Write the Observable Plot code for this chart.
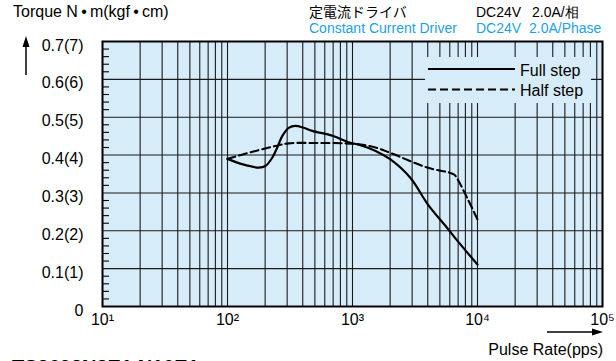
<!DOCTYPE html>
<html>
<head>
<meta charset="utf-8">
<script src="https://cdn.jsdelivr.net/npm/d3@7"></script>
<script src="https://cdn.jsdelivr.net/npm/@observablehq/plot@0.6"></script>
<style>
  html, body { margin: 0; padding: 0; background: #fff; }
  #chart { width: 616px; height: 361px; overflow: hidden; }
</style>
</head>
<body>
<div id="chart"></div>
<script>
// ---- data ----
const fullStepRate   = [100, 131, 178, 201, 228, 250, 274, 309, 350, 407, 476, 690, 930, 1160, 1530, 2000, 2900, 4000, 5700, 7300, 10000];
const fullStepTorque = [0.39, 0.376, 0.367, 0.371, 0.393, 0.42, 0.45, 0.472, 0.477, 0.472, 0.464, 0.451, 0.434, 0.426, 0.411, 0.389, 0.34, 0.27, 0.208, 0.164, 0.111];

const halfStepRate   = [100, 168, 242, 309, 500, 880, 1160, 1530, 2000, 3960, 6460, 6900, 8260, 10000];
const halfStepTorque = [0.39, 0.411, 0.424, 0.431, 0.432, 0.431, 0.428, 0.42, 0.406, 0.367, 0.349, 0.337, 0.287, 0.23];

const xTickValues = [10, 100, 1000, 10000, 100000];
const xTickLabels = ["10¹", "10²", "10³", "10⁴", "10⁵"];
const yTickValues = [0, 0.1, 0.2, 0.3, 0.4, 0.5, 0.6, 0.7];
const yTickLabels = ["0", "0.1(1)", "0.2(2)", "0.3(3)", "0.4(4)", "0.5(5)", "0.6(6)", "0.7(7)"];
const xGrid = [10,20,30,40,50,60,70,80,90,
               100,200,300,400,500,600,700,800,900,
               1000,2000,3000,4000,5000,6000,7000,8000,9000,
               10000,20000,30000,40000,50000,60000,70000,80000,90000,100000];
const yGrid = [0.1, 0.2, 0.3, 0.4, 0.5, 0.6];
const yMinor = [0.02,0.04,0.06,0.08,0.12,0.14,0.16,0.18,0.22,0.24,0.26,0.28,0.32,0.34,0.36,0.38,
                0.42,0.44,0.46,0.48,0.52,0.54,0.56,0.58,0.62,0.64,0.66,0.68];

const seriesNames = ["Full step", "Half step"];

const full = fullStepRate.map((r, i) => ({rate: r, torque: fullStepTorque[i]}));
const half = halfStepRate.map((r, i) => ({rate: r, torque: halfStepTorque[i]}));

const BG = "#d6ecf9";
const BLUE = "#1e9fe2";
const FONT = "'Liberation Sans', Arial, Helvetica, sans-serif";

const chart = Plot.plot({
  width: 616,
  height: 361,
  marginTop: 41,
  marginBottom: 55,
  marginLeft: 102,
  marginRight: 14,
  style: {fontFamily: FONT, fontSize: "16px", background: "transparent", color: "#000"},
  x: {type: "log", domain: [10, 100000]},
  y: {domain: [0, 0.7]},
  marks: [
    Plot.frame({fill: BG, stroke: null}),
    Plot.ruleX(xGrid, {stroke: "#1a1a1a", strokeWidth: 1.1}),
    Plot.ruleY(yGrid, {stroke: "#1a1a1a", strokeWidth: 1.1}),
    Plot.tickY(yMinor, {stroke: "#000", strokeWidth: 1.1, insetRight: 493}),
    Plot.axisY(yTickValues, {tickSize: 0, tickPadding: 19, dy: 4, label: null,
      tickFormat: d => yTickLabels[yTickValues.indexOf(d)], fill: "#000"}),
    Plot.axisX(xTickValues, {tickSize: 0, tickPadding: 7, label: null,
      tickFormat: d => xTickLabels[xTickValues.indexOf(d)], fill: "#000"}),
    Plot.line(full, {x: "rate", y: "torque", curve: "catmull-rom", stroke: "#000", strokeWidth: 2.2}),
    Plot.line(half, {x: "rate", y: "torque", curve: "catmull-rom", stroke: "#000", strokeWidth: 2.1, strokeDasharray: "8,4"}),
    Plot.frame({stroke: "#000", strokeWidth: 2})
  ]
});

document.getElementById("chart").appendChild(chart);

// ---- annotations ----
const svg = d3.select(chart);
const g = svg.append("g").attr("font-family", FONT).attr("text-anchor", "start").attr("fill", "#000");

// legend box (covers grid)
const leg = g.append("g");
leg.append("rect").attr("x", 425).attr("y", 57).attr("width", 166).attr("height", 46).attr("fill", BG);
leg.append("line").attr("x1", 428).attr("x2", 515).attr("y1", 69).attr("y2", 69)
  .attr("stroke", "#000").attr("stroke-width", 2);
leg.append("line").attr("x1", 428).attr("x2", 515).attr("y1", 89.5).attr("y2", 89.5)
  .attr("stroke", "#000").attr("stroke-width", 2).attr("stroke-dasharray", "8,4");
leg.append("text").attr("x", 520).attr("y", 75.5).attr("font-size", 16).text(seriesNames[0]);
leg.append("text").attr("x", 520).attr("y", 96).attr("font-size", 16).text(seriesNames[1]);

// y axis title and arrow
g.append("text").attr("x", 13).attr("y", 17).attr("font-size", 16).text("Torque N\u2009•\u2009m(kgf\u2009•\u2009cm)");
g.append("line").attr("x1", 26).attr("x2", 26).attr("y1", 75).attr("y2", 45).attr("stroke", "#000").attr("stroke-width", 1.5);
g.append("path").attr("d", "M26,36 L22.5,47 L29.5,47 Z").attr("fill", "#000");

// top right driver info
g.append("text").attr("x", 309).attr("y", 17).attr("font-size", 14)
  .attr("font-family", "'Noto Sans CJK JP', sans-serif").text("定電流ドライバ");
g.append("text").attr("x", 309).attr("y", 33).attr("font-size", 14).attr("fill", BLUE).text("Constant Current Driver");
g.append("text").attr("x", 476).attr("y", 17).attr("font-size", 14).text("DC24V");
g.append("text").attr("x", 532).attr("y", 17).attr("font-size", 14).text("2.0A/相");
g.append("text").attr("x", 476).attr("y", 33).attr("font-size", 14).attr("fill", BLUE).text("DC24V");
g.append("text").attr("x", 529).attr("y", 33).attr("font-size", 14).attr("fill", BLUE).text("2.0A/Phase");

// x axis arrow and title
g.append("line").attr("x1", 547).attr("x2", 593).attr("y1", 332).attr("y2", 332).attr("stroke", "#000").attr("stroke-width", 1.5);
g.append("path").attr("d", "M603,332 L592,328.5 L592,335.5 Z").attr("fill", "#000");
g.append("text").attr("x", 603).attr("y", 355).attr("font-size", 16).attr("text-anchor", "end").text("Pulse Rate(pps)");

// model name (cut off at bottom, as in the reference)
g.append("text").attr("x", 12).attr("y", 374).attr("font-size", 20).attr("font-weight", "bold").text("TS3692N2E1 N10E1");
</script>
</body>
</html>
